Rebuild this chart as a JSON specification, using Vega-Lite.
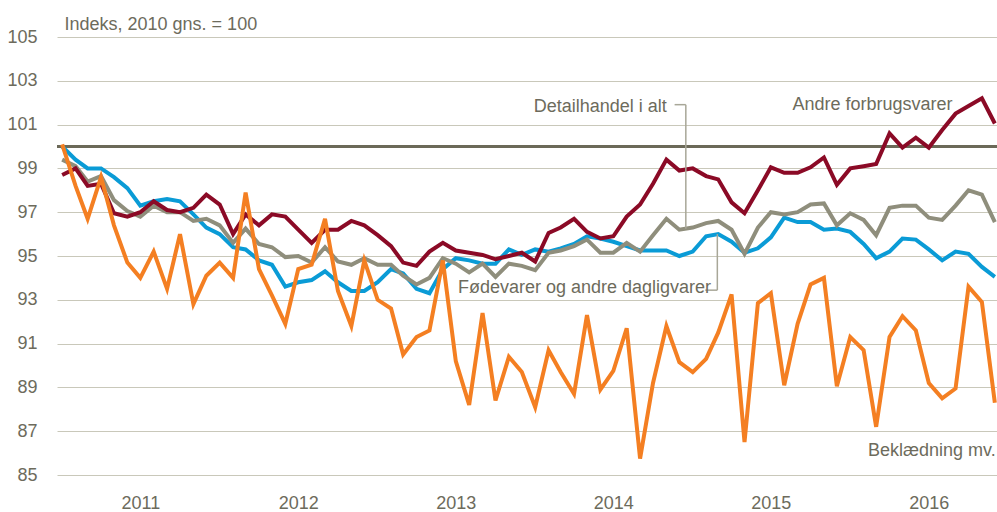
{
  "$schema": "https://vega.github.io/schema/vega-lite/v6.json",
  "width": 940,
  "height": 438,
  "autosize": "none",
  "padding": {"left": 57, "top": 37, "right": 0, "bottom": 37},
  "background": "white",
  "config": {"view": {"stroke": null}, "font": "Liberation Sans"},
  "datasets": {
    "series": [
      {"date": "2011-01-01", "detail": 99.4, "food": 100.0, "other": 98.7, "cloth": 100.1},
      {"date": "2011-02-01", "detail": 99.1, "food": 99.4, "other": 99.0, "cloth": 98.2},
      {"date": "2011-03-01", "detail": 98.4, "food": 99.0, "other": 98.2, "cloth": 96.7},
      {"date": "2011-04-01", "detail": 98.65, "food": 99.0, "other": 98.3, "cloth": 98.6},
      {"date": "2011-05-01", "detail": 97.55, "food": 98.6, "other": 96.95, "cloth": 96.4},
      {"date": "2011-06-01", "detail": 97.05, "food": 98.1, "other": 96.8, "cloth": 94.7},
      {"date": "2011-07-01", "detail": 96.8, "food": 97.3, "other": 97.0, "cloth": 94.0},
      {"date": "2011-08-01", "detail": 97.3, "food": 97.5, "other": 97.5, "cloth": 95.2},
      {"date": "2011-09-01", "detail": 97.0, "food": 97.6, "other": 97.1, "cloth": 93.5},
      {"date": "2011-10-01", "detail": 97.0, "food": 97.5, "other": 97.0, "cloth": 96.0},
      {"date": "2011-11-01", "detail": 96.6, "food": 96.9, "other": 97.2, "cloth": 92.8},
      {"date": "2011-12-01", "detail": 96.7, "food": 96.3, "other": 97.8, "cloth": 94.1},
      {"date": "2012-01-01", "detail": 96.4, "food": 96.0, "other": 97.35, "cloth": 94.7},
      {"date": "2012-02-01", "detail": 95.6, "food": 95.4, "other": 96.0, "cloth": 94.0},
      {"date": "2012-03-01", "detail": 96.25, "food": 95.3, "other": 96.9, "cloth": 97.9},
      {"date": "2012-04-01", "detail": 95.55, "food": 94.8, "other": 96.4, "cloth": 94.4},
      {"date": "2012-05-01", "detail": 95.4, "food": 94.6, "other": 96.9, "cloth": 93.2},
      {"date": "2012-06-01", "detail": 94.95, "food": 93.6, "other": 96.8, "cloth": 91.9},
      {"date": "2012-07-01", "detail": 95.0, "food": 93.8, "other": 96.2, "cloth": 94.4},
      {"date": "2012-08-01", "detail": 94.7, "food": 93.9, "other": 95.6, "cloth": 94.6},
      {"date": "2012-09-01", "detail": 95.4, "food": 94.3, "other": 96.2, "cloth": 96.7},
      {"date": "2012-10-01", "detail": 94.75, "food": 93.8, "other": 96.2, "cloth": 93.4},
      {"date": "2012-11-01", "detail": 94.6, "food": 93.4, "other": 96.6, "cloth": 91.8},
      {"date": "2012-12-01", "detail": 94.9, "food": 93.4, "other": 96.4, "cloth": 94.8},
      {"date": "2013-01-01", "detail": 94.6, "food": 93.8, "other": 95.95, "cloth": 93.0},
      {"date": "2013-02-01", "detail": 94.6, "food": 94.4, "other": 95.45, "cloth": 92.6},
      {"date": "2013-03-01", "detail": 94.1, "food": 94.2, "other": 94.7, "cloth": 90.5},
      {"date": "2013-04-01", "detail": 93.7, "food": 93.5, "other": 94.55, "cloth": 91.3},
      {"date": "2013-05-01", "detail": 94.0, "food": 93.3, "other": 95.2, "cloth": 91.6},
      {"date": "2013-06-01", "detail": 94.9, "food": 94.4, "other": 95.6, "cloth": 94.8},
      {"date": "2013-07-01", "detail": 94.65, "food": 94.9, "other": 95.25, "cloth": 90.2},
      {"date": "2013-08-01", "detail": 94.25, "food": 94.8, "other": 95.15, "cloth": 88.2},
      {"date": "2013-09-01", "detail": 94.65, "food": 94.65, "other": 95.05, "cloth": 92.4},
      {"date": "2013-10-01", "detail": 94.05, "food": 94.65, "other": 94.85, "cloth": 88.4},
      {"date": "2013-11-01", "detail": 94.65, "food": 95.3, "other": 95.0, "cloth": 90.4},
      {"date": "2013-12-01", "detail": 94.55, "food": 95.05, "other": 95.15, "cloth": 89.7},
      {"date": "2014-01-01", "detail": 94.35, "food": 95.3, "other": 94.75, "cloth": 88.1},
      {"date": "2014-02-01", "detail": 95.15, "food": 95.2, "other": 96.05, "cloth": 90.7},
      {"date": "2014-03-01", "detail": 95.25, "food": 95.35, "other": 96.3, "cloth": 89.7},
      {"date": "2014-04-01", "detail": 95.45, "food": 95.55, "other": 96.7, "cloth": 88.7},
      {"date": "2014-05-01", "detail": 95.75, "food": 95.9, "other": 96.1, "cloth": 92.3},
      {"date": "2014-06-01", "detail": 95.15, "food": 95.8, "other": 95.8, "cloth": 88.9},
      {"date": "2014-07-01", "detail": 95.15, "food": 95.65, "other": 95.9, "cloth": 89.75},
      {"date": "2014-08-01", "detail": 95.6, "food": 95.45, "other": 96.8, "cloth": 91.7},
      {"date": "2014-09-01", "detail": 95.2, "food": 95.25, "other": 97.35, "cloth": 85.75},
      {"date": "2014-10-01", "detail": 95.95, "food": 95.25, "other": 98.3, "cloth": 89.2},
      {"date": "2014-11-01", "detail": 96.7, "food": 95.25, "other": 99.4, "cloth": 91.8},
      {"date": "2014-12-01", "detail": 96.2, "food": 95.0, "other": 98.9, "cloth": 90.15},
      {"date": "2015-01-01", "detail": 96.3, "food": 95.2, "other": 99.0, "cloth": 89.7},
      {"date": "2015-02-01", "detail": 96.5, "food": 95.9, "other": 98.65, "cloth": 90.3},
      {"date": "2015-03-01", "detail": 96.6, "food": 96.0, "other": 98.5, "cloth": 91.5},
      {"date": "2015-04-01", "detail": 96.2, "food": 95.65, "other": 97.45, "cloth": 93.25},
      {"date": "2015-05-01", "detail": 95.1, "food": 95.15, "other": 96.95, "cloth": 86.5},
      {"date": "2015-06-01", "detail": 96.3, "food": 95.35, "other": 98.0, "cloth": 92.85},
      {"date": "2015-07-01", "detail": 97.0, "food": 95.85, "other": 99.05, "cloth": 93.3},
      {"date": "2015-08-01", "detail": 96.9, "food": 96.75, "other": 98.8, "cloth": 89.1},
      {"date": "2015-09-01", "detail": 97.0, "food": 96.55, "other": 98.8, "cloth": 91.9},
      {"date": "2015-10-01", "detail": 97.35, "food": 96.55, "other": 99.05, "cloth": 93.7},
      {"date": "2015-11-01", "detail": 97.4, "food": 96.2, "other": 99.5, "cloth": 94.0},
      {"date": "2015-12-01", "detail": 96.4, "food": 96.25, "other": 98.25, "cloth": 89.05},
      {"date": "2016-01-01", "detail": 96.95, "food": 96.1, "other": 99.0, "cloth": 91.3},
      {"date": "2016-02-01", "detail": 96.65, "food": 95.55, "other": 99.1, "cloth": 90.7},
      {"date": "2016-03-01", "detail": 95.95, "food": 94.9, "other": 99.2, "cloth": 87.2},
      {"date": "2016-04-01", "detail": 97.2, "food": 95.2, "other": 100.6, "cloth": 91.3},
      {"date": "2016-05-01", "detail": 97.3, "food": 95.8, "other": 99.95, "cloth": 92.25},
      {"date": "2016-06-01", "detail": 97.3, "food": 95.75, "other": 100.4, "cloth": 91.6},
      {"date": "2016-07-01", "detail": 96.75, "food": 95.3, "other": 99.95, "cloth": 89.2},
      {"date": "2016-08-01", "detail": 96.65, "food": 94.8, "other": 100.75, "cloth": 88.5},
      {"date": "2016-09-01", "detail": 97.3, "food": 95.2, "other": 101.5, "cloth": 88.95},
      {"date": "2016-10-01", "detail": 98.0, "food": 95.1, "other": 101.85, "cloth": 93.6},
      {"date": "2016-11-01", "detail": 97.8, "food": 94.5, "other": 102.2, "cloth": 92.9},
      {"date": "2016-12-01", "detail": 96.55, "food": 94.05, "other": 101.05, "cloth": 88.3}
    ],
    "labelsLeft": [
      {"date": "2015-08-20", "value": 101.66, "text": "Andre forbrugsvarer"},
      {"date": "2013-07-06", "value": 93.29, "text": "Fødevarer og andre dagligvarer"}
    ],
    "labelsRight": [
      {"date": "2014-11-02", "value": 101.59, "text": "Detailhandel i alt"},
      {"date": "2016-12-03", "value": 85.87, "text": "Beklædning mv."}
    ],
    "leaders": [
      {"date": "2014-11-20", "date2": "2014-12-16", "value": 101.91, "value2": 101.91},
      {"date": "2014-12-16", "date2": "2014-12-16", "value": 101.91, "value2": 96.25},
      {"date": "2015-01-30", "date2": "2015-02-27", "value": 93.44, "value2": 93.44},
      {"date": "2015-02-27", "date2": "2015-02-27", "value": 93.44, "value2": 96.0}
    ]
  },
  "layer": [
    {
      "data": {"values": [{}]},
      "mark": {"type": "rule", "color": "#6b6958", "strokeWidth": 3},
      "encoding": {
        "y": {
          "datum": 100,
          "type": "quantitative",
          "scale": {"domain": [85, 105], "nice": false, "zero": false},
          "axis": {
            "values": [85, 87, 89, 91, 93, 95, 97, 99, 101, 103, 105],
            "grid": true, "gridColor": "#c9c8ba", "gridWidth": 1,
            "domain": false, "ticks": false, "tickSize": 0,
            "labelPadding": 20, "labelFontSize": 18, "labelColor": "#6d6b5c",
            "labelFont": "Liberation Sans",
            "title": "Indeks, 2010 gns. = 100",
            "titleAngle": 0, "titleAlign": "left", "titleBaseline": "alphabetic",
            "titleX": 7, "titleY": -8, "titleFont": "Liberation Sans",
            "titleFontSize": 18, "titleFontWeight": "normal", "titleColor": "#6d6b5c"
          }
        }
      }
    },
    {
      "data": {"name": "series"},
      "mark": {"type": "line", "color": "#0a9bd6", "strokeWidth": 4},
      "encoding": {
        "x": {
          "field": "date", "type": "temporal",
          "scale": {"domain": [{"year": 2010, "month": 12, "date": 20, "utc": true}, {"year": 2016, "month": 12, "date": 6, "utc": true}]},
          "axis": {
            "values": [
              {"year": 2011, "month": 7, "date": 1, "utc": true},
              {"year": 2012, "month": 7, "date": 1, "utc": true},
              {"year": 2013, "month": 7, "date": 1, "utc": true},
              {"year": 2014, "month": 7, "date": 1, "utc": true},
              {"year": 2015, "month": 7, "date": 1, "utc": true},
              {"year": 2016, "month": 7, "date": 1, "utc": true}
            ],
            "format": "%Y", "grid": false, "domain": false, "ticks": false, "tickSize": 0,
            "labelPadding": 19, "labelFontSize": 18, "labelColor": "#6d6b5c",
            "labelFont": "Liberation Sans", "title": null
          }
        },
        "y": {"field": "food", "type": "quantitative"}
      }
    },
    {
      "data": {"name": "series"},
      "mark": {"type": "line", "color": "#8f8e7c", "strokeWidth": 4},
      "encoding": {
        "x": {"field": "date", "type": "temporal"},
        "y": {"field": "detail", "type": "quantitative"}
      }
    },
    {
      "data": {"name": "series"},
      "mark": {"type": "line", "color": "#8b0a26", "strokeWidth": 4},
      "encoding": {
        "x": {"field": "date", "type": "temporal"},
        "y": {"field": "other", "type": "quantitative"}
      }
    },
    {
      "data": {"name": "series"},
      "mark": {"type": "line", "color": "#f47f22", "strokeWidth": 4},
      "encoding": {
        "x": {"field": "date", "type": "temporal"},
        "y": {"field": "cloth", "type": "quantitative"}
      }
    },
    {
      "data": {"name": "leaders"},
      "mark": {"type": "rule", "color": "#a8a798", "strokeWidth": 1.5},
      "encoding": {
        "x": {"field": "date", "type": "temporal"},
        "x2": {"field": "date2"},
        "y": {"field": "value", "type": "quantitative"},
        "y2": {"field": "value2"}
      }
    },
    {
      "data": {"name": "labelsLeft"},
      "mark": {"type": "text", "align": "left", "baseline": "alphabetic", "fontSize": 18, "font": "Liberation Sans", "color": "#6d6b5c"},
      "encoding": {
        "x": {"field": "date", "type": "temporal"},
        "y": {"field": "value", "type": "quantitative"},
        "text": {"field": "text"}
      }
    },
    {
      "data": {"name": "labelsRight"},
      "mark": {"type": "text", "align": "right", "baseline": "alphabetic", "fontSize": 18, "font": "Liberation Sans", "color": "#6d6b5c"},
      "encoding": {
        "x": {"field": "date", "type": "temporal"},
        "y": {"field": "value", "type": "quantitative"},
        "text": {"field": "text"}
      }
    }
  ]
}
